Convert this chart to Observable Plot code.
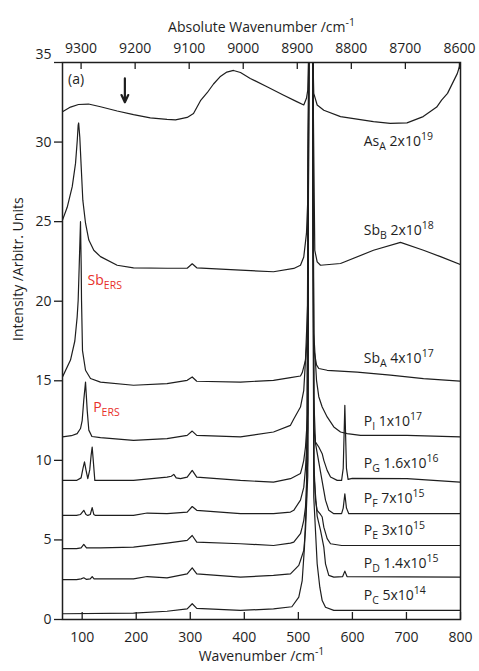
<!DOCTYPE html>
<html>
<head>
<meta charset="utf-8">
<script src="https://cdn.jsdelivr.net/npm/d3@7"></script>
<script src="https://cdn.jsdelivr.net/npm/@observablehq/plot@0.6"></script>
<style>
  html, body { margin: 0; padding: 0; background: #fff; }
  #chart { width: 479px; height: 671px; }
</style>
</head>
<body>
<div id="chart"></div>
<script>
// ---------- data ----------
const laser = 9398; // absolute wavenumber of excitation, cm^-1
const relTicks = [100, 200, 300, 400, 500, 600, 700, 800];
const absTicks = [9300, 9200, 9100, 9000, 8900, 8800, 8700, 8600];
const yTicks = [0, 5, 10, 15, 20, 25, 30, 35];

const asA = [[63.6,31.91],[78.4,32.2],[93.2,32.36],[111.7,32.39],[133.9,32.22],[164.8,31.95],[195,31.72],[226,31.52],[257,31.43],[272.7,31.4],[294.3,31.55],[306,31.8],[318.9,32.6],[331.3,33.1],[343,33.65],[355,34.1],[367.7,34.4],[380,34.5],[392.9,34.37],[411,34.0],[442,33.48],[472,32.96],[497,32.54],[510,32.33],[515,32.75],[517.4,33.27],[519.3,36],[522.5,45],[526.5,36],[528.5,33.06],[534.8,32.33],[547.1,32.0],[578,31.6],[639,31.28],[670,31.18],[701,31.21],[731,31.6],[756,32.2],[765,32.64],[776,33.06],[794,34.3],[800,34.95]];

const sbB = [[63.6,25.1],[72.3,25.9],[81.6,27.2],[87.7,28.66],[90.9,30.1],[92.6,31.07],[93.5,31.2],[95.6,30.3],[98.2,28.45],[101.2,26.35],[106.2,24.9],[112.3,23.84],[121.5,23.2],[133.9,22.8],[164.8,22.26],[195,22.1],[257,22.07],[294.3,22.07],[303.6,22.35],[312,22.1],[392.9,21.95],[454,21.85],[491.5,22.06],[503.9,22.26],[510,22.78],[515,24.26],[517.4,26.35],[519.3,36],[522.5,45],[526.5,36],[530.4,23.2],[534.8,22.47],[541,22.26],[578,22.37],[639,23.2],[689,23.7],[731.5,23.2],[763,22.8],[800,22.3]];

const sbA = [[63.6,15.24],[78.4,16.3],[86.4,17.5],[90.7,19.0],[92.6,20.06],[94.5,22.2],[96.9,25.0],[98.2,22.2],[98.8,20.06],[100.6,16.9],[106.2,15.66],[115.4,15.14],[133.9,14.92],[195,14.72],[257,14.82],[294.3,15.03],[303.6,15.24],[312,14.97],[392.9,14.92],[454,15.03],[485.4,15.2],[503.9,15.3],[507.1,15.5],[510,15.87],[513.2,16.3],[517.4,18],[519.3,36],[522.5,45],[526.5,36],[528.5,17],[533.6,16.0],[537.8,15.77],[553.3,15.66],[608.8,15.55],[670.4,15.35],[731.5,15.14],[800,14.97]];

const pI = [[63.6,11.47],[80,11.55],[90.7,11.68],[96.9,12.0],[100,12.5],[103,13.8],[106.2,14.92],[109.3,13.14],[112.3,11.9],[118,11.5],[133.9,11.43],[195,11.26],[257,11.37],[294.3,11.57],[303.6,11.84],[312,11.57],[392.9,11.47],[454,11.78],[485.4,12.2],[491.5,12.6],[503.9,13.35],[510,14.4],[513.2,16.3],[517.4,20],[519.3,36],[522.5,45],[526.5,36],[528.5,18],[533.6,15.03],[537.8,14.0],[544.1,13.35],[553.3,12.73],[565.6,12.1],[578,11.78],[590.3,11.68],[615,11.57],[701,11.57],[800,11.47]];

const pG = [[63.6,8.74],[89.5,8.74],[98,8.9],[101.5,9.5],[104.3,9.9],[107,9.4],[110.4,8.85],[114,9.4],[116.5,10.3],[118.5,10.84],[120.5,10.0],[123.4,8.74],[133.9,8.74],[195,8.74],[257,8.95],[265,9.0],[269.5,9.12],[274,8.9],[281.9,8.85],[294.3,8.95],[303.6,9.37],[312,8.95],[392.9,8.74],[454,8.63],[485.4,8.85],[503.9,9.18],[507.1,9.58],[510,10.0],[513.2,10.84],[517.4,13],[519.3,36],[522.5,45],[526.5,36],[528.5,12],[531.7,11.15],[537.8,10.84],[544.1,10.42],[547.1,10.0],[553.3,9.37],[559.5,8.95],[571.9,8.74],[580,8.74],[583,9.5],[586,13.46],[589,9.5],[592,8.8],[599.6,8.87],[701,8.85],[800,8.63]];

const pF = [[63.6,6.54],[89.5,6.54],[97,6.6],[103,6.86],[107,6.6],[110.4,6.54],[115,6.6],[118.5,7.03],[121.5,6.6],[124.7,6.54],[195,6.54],[220.3,6.69],[257,6.65],[294.3,6.75],[303.6,7.1],[312,6.86],[392.9,6.65],[454,6.65],[485.4,6.75],[491.5,6.86],[503.9,7.5],[510,8.3],[513.2,9.5],[517.4,12],[519.3,36],[522.5,45],[526.5,36],[528.5,14],[531.7,11.07],[547.1,8.1],[550.2,7.5],[556.3,6.86],[565.6,6.65],[580,6.65],[583,7.0],[586,7.9],[589,7.0],[593.3,6.65],[800,6.65]];

const pE = [[63.6,4.45],[89.5,4.45],[98,4.5],[103,4.72],[108,4.5],[133.9,4.5],[195,4.55],[257,4.8],[294.3,4.97],[303.6,5.28],[312,4.86],[392.9,4.76],[454,4.65],[485.4,4.8],[491.5,4.86],[503.9,5.39],[507.1,5.8],[510,6.23],[513.2,7.07],[517.4,10],[519.3,36],[522.5,45],[526.5,36],[528.5,10],[531.7,7.5],[534.8,6.86],[541,6.6],[544.1,6.44],[547.1,5.8],[553.3,5.08],[559.5,4.76],[580,4.65],[800,4.65]];

const pD = [[63.6,2.5],[89.5,2.5],[98,2.55],[103,2.62],[108,2.52],[115,2.55],[118.5,2.7],[122,2.55],[195,2.55],[220.3,2.7],[257,2.62],[294.3,2.87],[303.6,3.25],[312,2.87],[392.9,2.66],[454,2.77],[485.4,2.87],[500.8,3.4],[503.9,3.71],[510,4.34],[513.2,5.6],[517.4,9],[519.3,36],[522.5,45],[526.5,36],[529,9],[534.8,6.5],[541,5.6],[547.1,4.55],[550.2,3.5],[556.3,2.77],[565.6,2.66],[582,2.7],[586,3.04],[590,2.7],[800,2.66]];

const pC = [[63.6,0.36],[195,0.4],[257,0.52],[294.3,0.67],[303.6,0.99],[312,0.7],[392.9,0.57],[454,0.67],[488,0.8],[500.8,1.4],[507.1,2.45],[511.3,4.55],[515,7.7],[519.3,36],[522.5,45],[526.5,36],[528.5,7.7],[534.8,3.5],[539.7,2.03],[544.1,1.19],[550.2,0.77],[565.6,0.57],[800,0.57]];

const series = [asA, sbB, sbA, pI, pG, pF, pE, pD, pC];

const labelText = ["As_{A} 2x10^{19}", "Sb_{B} 2x10^{18}", "Sb_{A} 4x10^{17}", "P_{I} 1x10^{17}", "P_{G} 1.6x10^{16}", "P_{F} 7x10^{15}", "P_{E} 3x10^{15}", "P_{D} 1.4x10^{15}", "P_{C} 5x10^{14}"];
const labelY = [30.02, 24.47, 16.4, 12.41, 9.79, 7.59, 5.6, 3.5, 1.51];
const labelX = 621;

const ersText = ["Sb_{ERS}", "P_{ERS}"];
const ersX = [110, 120.4];
const ersY = [21.28, 13.31];

const arrowX = 179, arrowFrom = 34.0, arrowTo = 32.5;
const panelText = "(a)", panelX = 74, panelY = 33.9;

// ---------- chart ----------
const ink = "#1e1e1e";
const W = 479, H = 671, mL = 62, mR = 19, mT = 62, mB = 52;
const innerH = H - mT - mB;
const tick = 7;

const marks = [
  ...series.map(s => Plot.line(s, {x: d => d[0], y: d => d[1], stroke: ink, strokeWidth: 1.2, clip: true})),
  Plot.frame({stroke: ink, strokeWidth: 1.5}),
  // inside ticks bottom (relative) and top (absolute)
  Plot.ruleX(relTicks, {x: d => d, insetTop: innerH - tick, stroke: ink, strokeWidth: 1.3}),
  Plot.ruleX(absTicks, {x: d => laser - d, insetBottom: innerH - tick, stroke: ink, strokeWidth: 1.3}),
  Plot.axisX(relTicks, {anchor: "bottom", tickSize: 0, tickPadding: 13, label: null, fontSize: 14, fill: ink}),
  Plot.axisX(absTicks.map(a => laser - a), {anchor: "top", tickSize: 0, tickPadding: 10, label: null, tickFormat: d => String(Math.round(laser - d)), fontSize: 14, fill: ink}),
  Plot.axisY(yTicks, {anchor: "left", tickSize: 8, tickPadding: 3, label: null, tickFormat: d => d === 35 ? "" : String(d), fontSize: 14, fill: ink, stroke: ink, strokeWidth: 1.3}),
  Plot.text([35], {x: () => 63.6, y: d => d, text: d => String(d), textAnchor: "end", dx: -11, dy: -8, fontSize: 14, fill: ink}),
  // axis titles
  Plot.text(["Wavenumber /cm^{-1}"], {frameAnchor: "bottom", dy: 41, fontSize: 14, fill: ink}),
  Plot.text(["Absolute Wavenumber /cm^{-1}"], {frameAnchor: "top", dy: -40, fontSize: 14, fill: ink}),
  Plot.text(["Intensity /Arbitr. Units"], {frameAnchor: "left", rotate: -90, dx: -44, fontSize: 14, fill: ink}),
  // series labels
  Plot.text(labelText, {x: () => labelX, y: (d, i) => labelY[i], text: d => d, textAnchor: "start", fontSize: 14, fill: ink}),
  Plot.text(ersText, {x: (d, i) => ersX[i], y: (d, i) => ersY[i], text: d => d, textAnchor: "start", fontSize: 14, fill: "#e8302a"}),
  Plot.text([panelText], {x: () => panelX, y: () => panelY, text: d => d, textAnchor: "start", fontSize: 14, fill: ink}),
  Plot.arrow([0], {x: () => arrowX, y1: () => arrowFrom, y2: () => arrowTo, stroke: ink, strokeWidth: 2.2, headLength: 7, headAngle: 50})
];

const svg = Plot.plot({
  width: W, height: H,
  marginLeft: mL, marginRight: mR, marginTop: mT, marginBottom: mB,
  style: {fontFamily: "'Open Sans', sans-serif", fontSize: "14px", background: "#fff", color: ink},
  x: {domain: [63.6, 800]},
  y: {domain: [0, 35]},
  marks
});

// rich text: _{sub} and ^{sup}
const NS = "http://www.w3.org/2000/svg";
svg.querySelectorAll("text").forEach(el => {
  const s = el.textContent;
  if (!/[_^]\{/.test(s)) return;
  const parts = s.split(/(_\{[^}]*\}|\^\{[^}]*\})/).filter(p => p.length);
  while (el.firstChild) el.removeChild(el.firstChild);
  let shift = 0;
  for (const p of parts) {
    const t = document.createElementNS(NS, "tspan");
    let target = 0, content = p, small = false;
    if (p.startsWith("_{")) { target = 4; content = p.slice(2, -1); small = true; }
    else if (p.startsWith("^{")) { target = -6; content = p.slice(2, -1); small = true; }
    if (target !== shift) t.setAttribute("dy", String(target - shift));
    shift = target;
    if (small) t.setAttribute("font-size", "10.5");
    t.textContent = content;
    el.appendChild(t);
  }
});

document.getElementById("chart").appendChild(svg);
</script>
</body>
</html>
